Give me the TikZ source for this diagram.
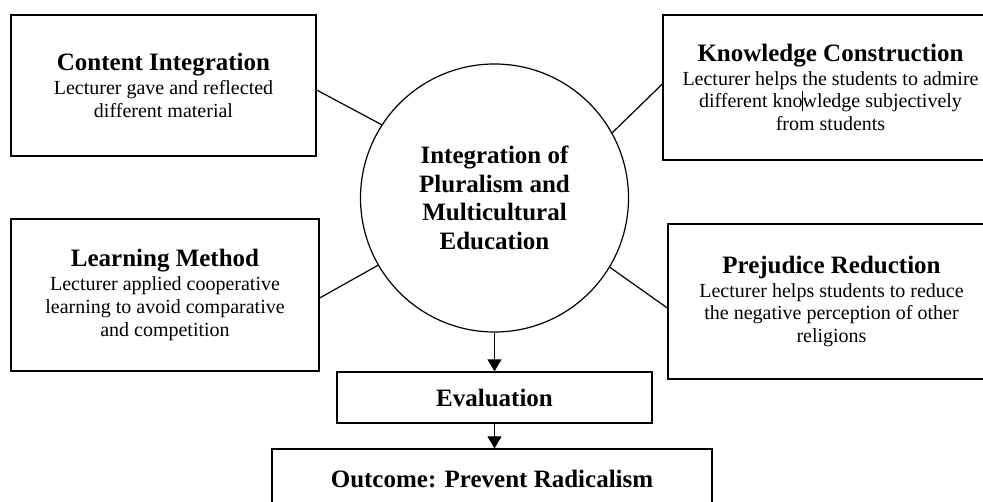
\documentclass[tikz,border=0pt]{standalone}
\usepackage{fontspec}
\setmainfont{Liberation Serif}
\usetikzlibrary{arrows.meta}
\tikzset{
  box/.style={draw, line width=0.65pt, align=center, inner sep=0pt,
    font=\fontsize{10}{11.4}\selectfont},
  conn/.style={line width=0.6pt},
  arr/.style={line width=0.6pt, -{Triangle[width=7pt,length=6pt]}},
}
\newcommand{\hd}[1]{{\fontsize{12.5}{12.5}\selectfont\bfseries #1}}
\begin{document}
\begin{tikzpicture}[x=0.5pt,y=-0.5pt]
\useasboundingbox (0,0) rectangle (983,502);
\clip (0,0) rectangle (983,502);
\node[box, minimum width=152.5pt, minimum height=70.5pt] (ci) at (163.5,85.5)
  {\hd{Content Integration}\\[0.5pt] Lecturer gave and reflected\\ different material};
\node[box, minimum width=167.5pt, minimum height=72.5pt] (kc) at (830.5,87.5)
  {\hd{Knowledge Construction}\\[0.5pt] Lecturer helps the students to admire\\ different kno\makebox[0pt]{\rule[-1.5pt]{0.45pt}{10pt}}wledge subjectively\\ from students};
\node[box, minimum width=154pt, minimum height=76pt] (lm) at (165,295)
  {\hd{Learning Method}\\[0.5pt] Lecturer applied cooperative\\ learning to avoid comparative\\ and competition};
\node[box, minimum width=163.5pt, minimum height=77.5pt] (pr) at (831.5,301.5)
  {\hd{Prejudice Reduction}\\[0.5pt] Lecturer helps students to reduce\\ the negative perception of other\\ religions};
\node[draw, circle, line width=0.6pt, minimum size=134pt, inner sep=0pt, align=center,
  font=\fontsize{12.5}{14.25}\selectfont\bfseries] (c) at (494.5,198)
  {Integration of\\ Pluralism and\\ Multicultural\\ Education};
\node[box, minimum width=157.5pt, minimum height=25.5pt] (ev) at (494.5,397.5) {\hd{Evaluation}};
\node[box, minimum width=220pt, minimum height=30pt] (out) at (492,479) {\hd{Outcome: Prevent Radicalism}};
\draw[conn] ([yshift=-2.25pt]ci.east) -- (c.147.7);
\draw[conn] (c.29.5) -- ([yshift=1.75pt]kc.west);
\draw[conn] ([yshift=-1.5pt]lm.east) -- (c.210.8);
\draw[conn] (c.-31) -- ([yshift=-3.25pt]pr.west);
\draw[arr] (c.south) -- (ev.north);
\draw[arr] (ev.south) -- (ev.south |- out.north);
\end{tikzpicture}
\end{document}
